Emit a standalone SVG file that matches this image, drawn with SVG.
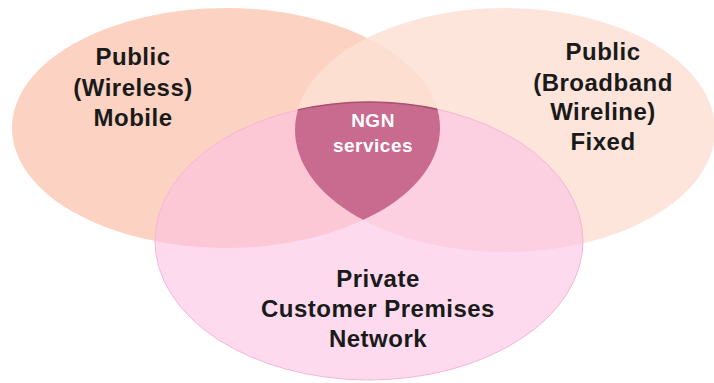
<svg xmlns="http://www.w3.org/2000/svg" width="714" height="383" viewBox="0 0 714 383">
  <style>
    .lbl { font-family: "Liberation Sans", Arial, sans-serif; font-weight: bold; font-size: 24px; letter-spacing: 0.5px; fill: #1a1a1a; text-anchor: middle; }
    .ngn { font-family: "Liberation Sans", Arial, sans-serif; font-weight: bold; font-size: 19px; letter-spacing: 0.5px; fill: #ffffff; text-anchor: middle; }
  </style>
  <defs>
    <clipPath id="clipLeft"><ellipse cx="226" cy="128" rx="214" ry="120"/></clipPath>
    <clipPath id="clipRight"><ellipse cx="505" cy="130" rx="210" ry="122"/></clipPath>
  </defs>
  <rect width="714" height="383" fill="#ffffff"/>
  <g id="mobile">
    <ellipse cx="226" cy="128" rx="214" ry="120" fill="#FCD3C2"/>
  </g>
  <g id="fixed">
    <ellipse cx="505" cy="130" rx="210" ry="122" fill="#FDE0D5" fill-opacity="0.85"/>
  </g>
  <g id="private">
    <ellipse cx="369" cy="241" rx="214" ry="139" fill="#FCC1E3" fill-opacity="0.6" stroke="#F6B6D8" stroke-width="1"/>
  </g>
  <g id="ngn">
    <g clip-path="url(#clipLeft)">
      <g clip-path="url(#clipRight)">
        <ellipse cx="369" cy="241" rx="214" ry="139" fill="#C96A8F" stroke="#A8506F" stroke-width="1.5"/>
      </g>
    </g>
    <text class="ngn" x="373" y="127">NGN</text>
    <text class="ngn" x="373" y="152">services</text>
  </g>
  <g id="labels">
    <text class="lbl" x="133" y="65">Public</text>
    <text class="lbl" x="133" y="96">(Wireless)</text>
    <text class="lbl" x="133" y="126">Mobile</text>
    <text class="lbl" x="603" y="60">Public</text>
    <text class="lbl" x="603" y="91">(Broadband</text>
    <text class="lbl" x="603" y="120">Wireline)</text>
    <text class="lbl" x="603" y="150">Fixed</text>
    <text class="lbl" x="378" y="287">Private</text>
    <text class="lbl" x="378" y="317">Customer Premises</text>
    <text class="lbl" x="378" y="347">Network</text>
  </g>
  <g id="connectors"/>
</svg>
